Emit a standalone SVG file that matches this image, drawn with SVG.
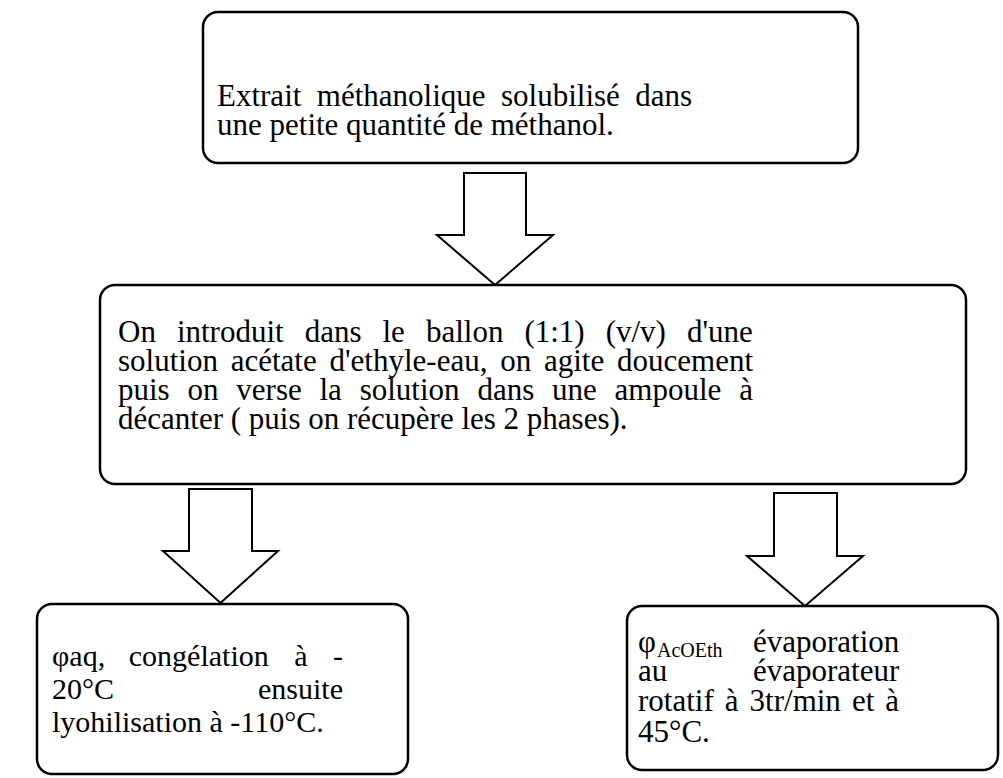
<svg xmlns="http://www.w3.org/2000/svg" width="1003" height="778" viewBox="0 0 1003 778">
<style>
.box{fill:#fff;stroke:#000;stroke-width:2.5}
.arr{fill:#fff;stroke:#000;stroke-width:2;stroke-linejoin:miter}
.t{font-family:"Liberation Serif","Times New Roman",serif;font-size:31px;fill:#000}
.t3{font-family:"Liberation Serif","Times New Roman",serif;font-size:30px;fill:#000}
.sub{font-size:20px}
</style>
<rect width="1003" height="778" fill="#fff"/>
<g id="connectors">
<path class="arr" d="M464,173 H526 V235 H553 L495,285 L437,235 H464 Z"/>
<path class="arr" d="M189,489 H252 V551 H278 L220.5,603 L163,551 H189 Z"/>
<path class="arr" d="M774,493 H837 V556 H863 L805,606 L747,556 H774 Z"/>
</g>
<g id="node1">
<rect class="box" x="203" y="12" width="655" height="151" rx="15"/>
<text class="t" y="106"><tspan x="217">Extrait</tspan><tspan x="316.8">méthanolique</tspan><tspan x="501">solubilisé</tspan><tspan x="635.3">dans</tspan></text>
<text class="t" x="217" y="135">une petite quantité de méthanol.</text>
</g>
<g id="node2">
<rect class="box" x="100" y="285" width="866" height="199" rx="15"/>
<text class="t" y="342"><tspan x="118">On</tspan><tspan x="176.9">introduit</tspan><tspan x="304.7">dans</tspan><tspan x="382.5">le</tspan><tspan x="425.9">ballon</tspan><tspan x="524.4">(1:1)</tspan><tspan x="605.7">(v/v)</tspan><tspan x="687">d'une</tspan></text>
<text class="t" y="371"><tspan x="118">solution</tspan><tspan x="230.7">acétate</tspan><tspan x="329.5">d'ethyle-eau,</tspan><tspan x="500.2">on</tspan><tspan x="543.9">agite</tspan><tspan x="617">doucement</tspan></text>
<text class="t" y="400"><tspan x="118">puis</tspan><tspan x="187.5">on</tspan><tspan x="236.3">verse</tspan><tspan x="319.5">la</tspan><tspan x="359.7">solution</tspan><tspan x="477.4">dans</tspan><tspan x="552">une</tspan><tspan x="614.6">ampoule</tspan><tspan x="739.2">à</tspan></text>
<text class="t" x="118" y="429">décanter ( puis on récupère les 2 phases).</text>
</g>
<g id="node3">
<rect class="box" x="37" y="604" width="371" height="170" rx="15"/>
<text class="t3" y="666"><tspan x="52">φaq,</tspan><tspan x="128.8">congélation</tspan><tspan x="294.2">à</tspan><tspan x="332.9">-</tspan></text>
<text class="t3" y="699"><tspan x="52">20°C</tspan><tspan x="258">ensuite</tspan></text>
<text class="t3" x="52" y="732">lyohilisation à -110°C.</text>
</g>
<g id="node4">
<rect class="box" x="627" y="606" width="371" height="164" rx="15"/>
<text class="t" y="652"><tspan x="638">φ</tspan><tspan class="sub" x="657" dy="5">AcOEth</tspan><tspan x="753" dy="-5">évaporation</tspan></text>
<text class="t" y="681"><tspan x="638">au</tspan><tspan x="753">évaporateur</tspan></text>
<text class="t" y="711"><tspan x="638">rotatif</tspan><tspan x="724.8">à</tspan><tspan x="749.6">3tr/min</tspan><tspan x="851.9">et</tspan><tspan x="885.3">à</tspan></text>
<text class="t" x="638" y="742">45°C.</text>
</g>
</svg>
